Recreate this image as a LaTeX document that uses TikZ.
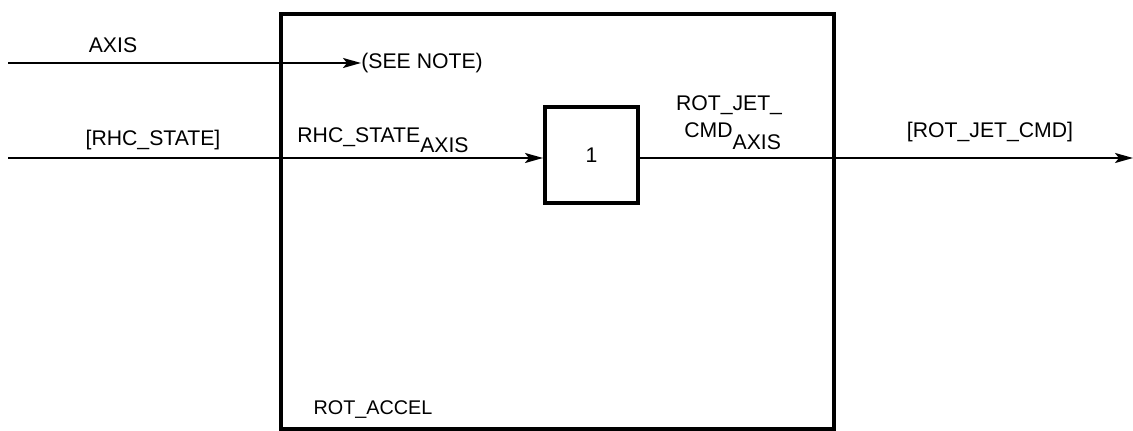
\documentclass[tikz,border=0pt]{standalone}
\usepackage{fontspec}
\setmainfont{Liberation Sans}
\usetikzlibrary{arrows.meta}
\begin{document}
\begin{tikzpicture}[x=0.5pt,y=-0.5pt,
  lbl/.style={font=\fontsize{10.6pt}{12pt}\selectfont, inner sep=0pt},
  outerbox/.style={draw, line width=1.6pt, inner sep=0pt, minimum width=276.5pt, minimum height=207.5pt},
  blockbox/.style={draw, line width=2pt, inner sep=0pt, minimum width=46.5pt, minimum height=48pt, font=\fontsize{10.6pt}{12pt}\selectfont},
  flow/.style={line width=1.1pt, -{Stealth[length=9pt,width=5pt,inset=2pt]}},
  plain/.style={line width=1.1pt}]
\useasboundingbox (0,0) rectangle (1133,431);
% outer and inner blocks
\node[outerbox] (rotaccel) at (557.5,221.5) {};
\node[blockbox] (blk) at (591.5,155) {1};
% free ends
\coordinate (axisin) at (8,63);
\coordinate (rhcin) at (8,158);
\coordinate (outend) at (1133,158);
% texts
\node[lbl, anchor=west] (seenote) at (361,63) {(SEE NOTE)};
\node[lbl] (axislbl) at (113,45) {AXIS};
\node[lbl] (rhclbl) at (153,140) {[RHC\_STATE]};
\node[lbl, anchor=west] (rhcax) at (297,140) {RHC\_STATE\raisebox{-5pt}{AXIS}};
\node[lbl] (rotjet1) at (729,105) {ROT\_JET\_};
\node[lbl, anchor=west] (rotjet2) at (684,136) {CMD\raisebox{-6pt}{AXIS}};
\node[lbl] (rotjetcmd) at (990,132) {[ROT\_JET\_CMD]};
\node[lbl, font=\fontsize{9.9pt}{12pt}\selectfont] (rotacc) at (373,410) {ROT\_ACCEL};
% connectors
\draw[flow] (axisin) -- (seenote.west |- axisin);
\draw[flow] (rhcin) -- (rhcin -| blk.west);
\draw[flow] (blk.east |- outend) -- (outend);
\end{tikzpicture}
\end{document}
